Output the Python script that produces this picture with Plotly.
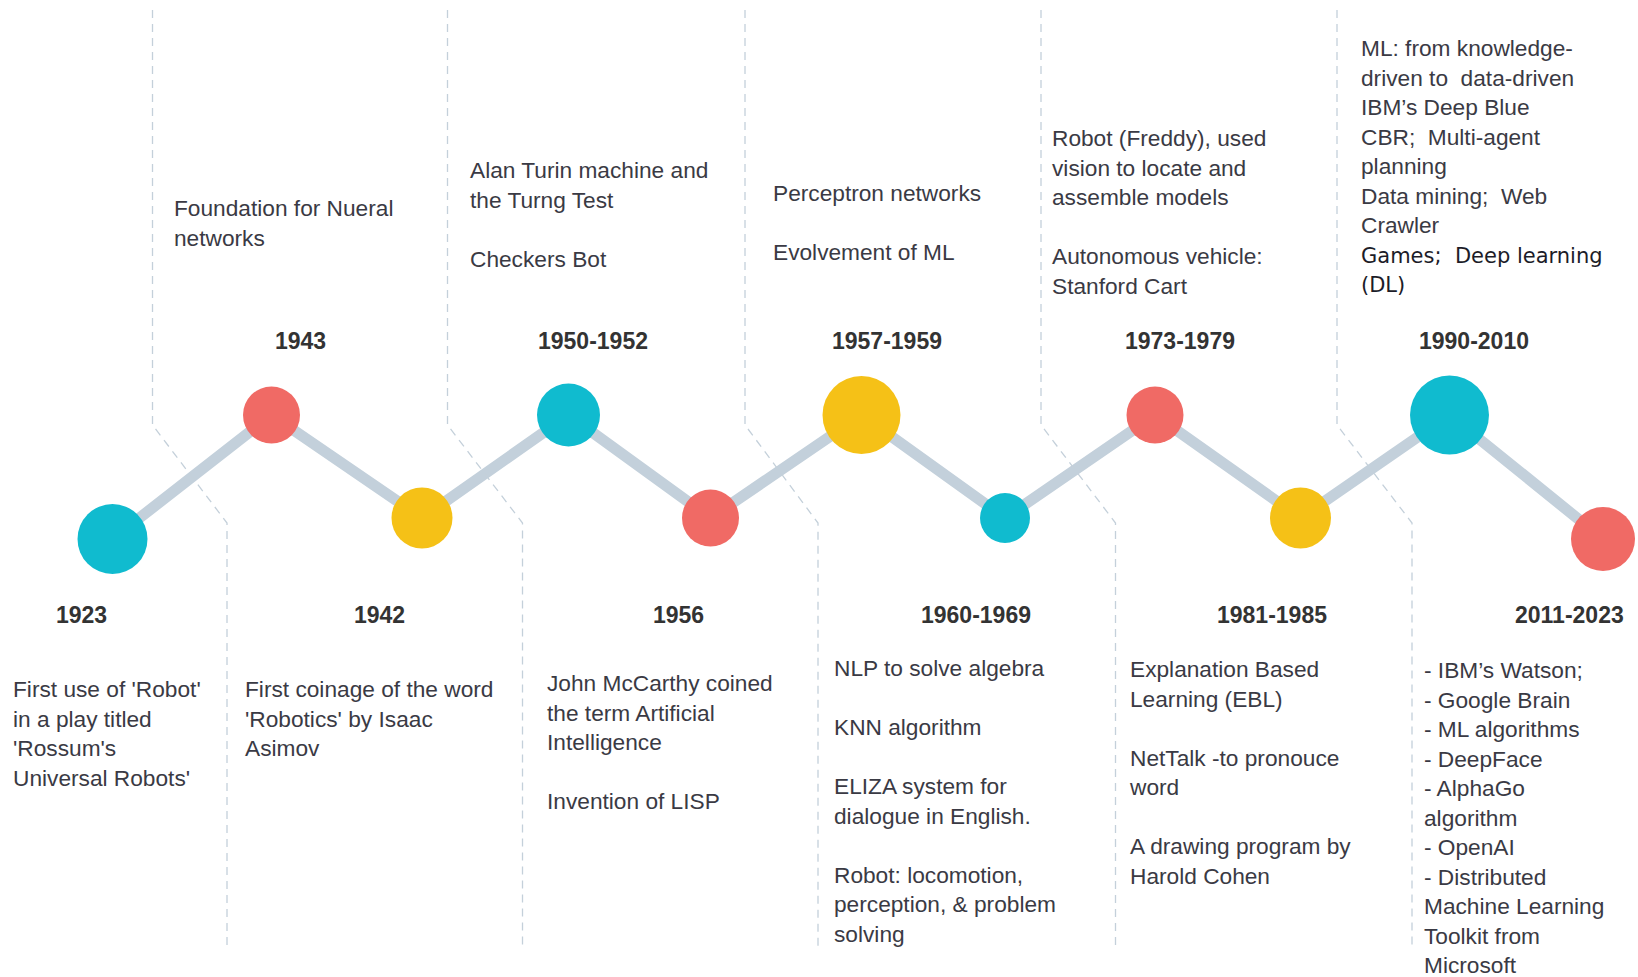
import plotly.graph_objects as go

# timeline content, in drawing order (left to right)
periods = ["1923", "1943", "1942", "1950-1952", "1956", "1957-1959",
           "1960-1969", "1973-1979", "1981-1985", "1990-2010", "2011-2023"]
side = ["bottom", "top", "bottom", "top", "bottom", "top",
        "bottom", "top", "bottom", "top", "bottom"]
palette = ["teal", "red", "yellow", "teal", "red", "yellow",
           "teal", "red", "yellow", "teal", "red"]

NB = "\u00a0"
descriptions = [
    "First use of 'Robot'<br>in a play titled<br>'Rossum's<br>Universal Robots'",
    "Foundation for Nueral<br>networks",
    "First coinage of the word<br>'Robotics' by Isaac<br>Asimov",
    "Alan Turin machine and<br>the Turng Test<br><br>Checkers Bot",
    "John McCarthy coined<br>the term Artificial<br>Intelligence<br><br>Invention of LISP",
    "Perceptron networks<br><br>Evolvement of ML",
    "NLP to solve algebra<br><br>KNN algorithm<br><br>ELIZA system for<br>dialogue in English."
    "<br><br>Robot: locomotion,<br>perception, & problem<br>solving",
    "Robot (Freddy), used<br>vision to locate and<br>assemble models<br><br>"
    "Autonomous vehicle:<br>Stanford Cart",
    "Explanation Based<br>Learning (EBL)<br><br>NetTalk -to pronouce<br>word<br><br>"
    "A drawing program by<br>Harold Cohen",
    "ML: from knowledge-<br>driven to" + NB + " data-driven<br>IBM\u2019s Deep Blue<br>CBR;" + NB +
    " Multi-agent<br>planning<br>Data mining;" + NB + " Web<br>Crawler<br>"
    "<span style='font-family:DejaVu Sans;font-size:21px;fill:#1c1c28'>Games;" + NB +
    " Deep learning<br>(DL)</span>",
    "- IBM\u2019s Watson;<br>- Google Brain<br>- ML algorithms<br>- DeepFace<br>- AlphaGo<br>"
    "algorithm<br>- OpenAI<br>- Distributed<br>Machine Learning<br>Toolkit from<br>Microsoft",
]

# geometry of the drawing (page pixels)
node_x = [112.5, 271.5, 422, 568.5, 710.5, 861.5, 1005, 1155, 1300.5, 1449.5, 1603]
node_y = [539, 415, 518, 415, 518, 415, 518, 415, 518, 415, 539]
node_d = [70, 57, 61, 63, 57, 78, 50, 57, 61, 79, 64]
label_x = [81.5, 300, 379, 593, 678, 887, 976, 1180, 1272, 1474, 1569]
text_x = [11, 172, 243, 468, 545, 771, 832, 1050, 1127, 1359, 1422]
text_top = [681, 200, 681, 162, 675, 185, 660, 130, 661, 40, 662]
sep_top_x = [152.5, 447.5, 745, 1041, 1337]
sep_bottom_x = [227, 522.5, 818, 1115.5, 1412]

colors = {"teal": "#10BBCF", "red": "#F06A65", "yellow": "#F5C117"}
FONT = "Liberation Sans, Arial, sans-serif"

fig = go.Figure()

# gray zig-zag connector
fig.add_trace(go.Scatter(
    x=node_x, y=node_y, mode="lines",
    line=dict(color="#C3D0DB", width=11),
    hoverinfo="skip", showlegend=False
))

# dashed separators between the columns
for xt, xb in zip(sep_top_x, sep_bottom_x):
    fig.add_trace(go.Scatter(
        x=[xt, xt, xb, xb], y=[10, 425, 523, 950], mode="lines",
        line=dict(color="#C4D0DA", width=1.3, dash="8px,6px"),
        hoverinfo="skip", showlegend=False
    ))

# milestone circles
fig.add_trace(go.Scatter(
    x=node_x, y=node_y, mode="markers",
    marker=dict(size=node_d, color=[colors[c] for c in palette],
                opacity=1, line=dict(width=0)),
    hovertext=periods, hoverinfo="text", showlegend=False
))

for i, period in enumerate(periods):
    fig.add_annotation(
        x=label_x[i], y=341 if side[i] == "top" else 615,
        xref="x", yref="y", text="<b>" + period + "</b>", showarrow=False,
        xanchor="center", yanchor="middle",
        font=dict(family=FONT, size=23, color="#333333")
    )
    fig.add_annotation(
        x=text_x[i], y=text_top[i] - 7,
        xref="x", yref="y", text=descriptions[i], showarrow=False,
        xanchor="left", yanchor="top", align="left",
        font=dict(family=FONT, size=22.7, color="#3A3A44")
    )

fig.update_xaxes(range=[0, 1638], visible=False, fixedrange=True)
fig.update_yaxes(range=[977, 0], visible=False, fixedrange=True)
fig.update_layout(
    width=1638, height=977,
    margin=dict(l=0, r=0, t=0, b=0),
    paper_bgcolor="white", plot_bgcolor="white",
    showlegend=False
)

fig.write_html("out.html", config={"displayModeBar": False},
               post_script="document.body.style.margin='0';")
